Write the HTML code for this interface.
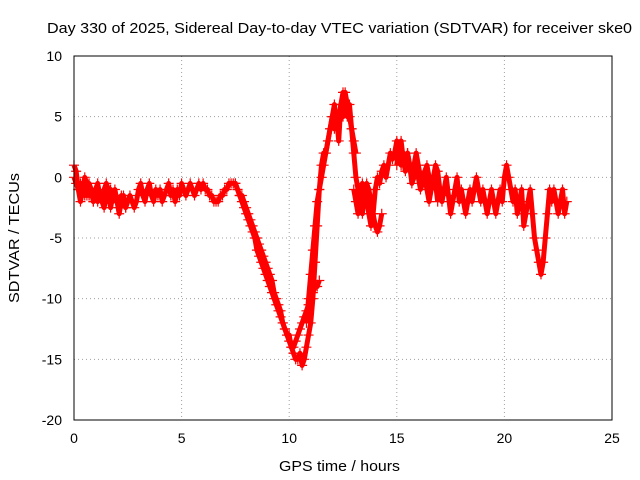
<!DOCTYPE html>
<html><head><meta charset="utf-8"><style>
body{margin:0;background:#fff;}
svg{display:block;font-family:"Liberation Sans",sans-serif;}
</style></head><body>
<svg id="chart" width="640" height="480">
<rect width="640" height="480" fill="#fff"/>
<text x="47" y="33" font-size="15" textLength="585" lengthAdjust="spacingAndGlyphs">Day 330 of 2025, Sidereal Day-to-day VTEC variation (SDTVAR) for receiver ske0</text>
<g id="grid"></g>
<g id="ticks"></g>
<g id="marks"></g>
<rect x="74" y="56" width="538" height="364" fill="none" stroke="#000"/>
<text x="279" y="471" font-size="15" textLength="121" lengthAdjust="spacingAndGlyphs">GPS time / hours</text>
<text transform="translate(19,303) rotate(-90)" font-size="15" textLength="130" lengthAdjust="spacingAndGlyphs">SDTVAR / TECUs</text>
</svg>
<script>
const xTicks=[0,5,10,15,20,25];
const yTicks=[10,5,0,-5,-10,-15,-20];
const track1Start=0;
const track1=[0,-0.5,-1,-0.5,-1,-1.5,-1,-1.5,-1,-2,
-1.5,-2,-1.5,-2,-2.5,-1.5,-2,-1,-2,-1.5,
-2,-2.5,-1.5,-2,-2.5,-2,-1.5,-2,-2.5,-2,
-1,-0.5,-1.5,-2,-1,-0.5,-1.5,-2,-1,-1.5,
-1,-2,-1.5,-1,-0.5,-1.5,-1,-2,-1,-1.5,
-0.5,-1,-1.5,-1,-0.5,-1,-1.5,-1,-0.5,-1,
-0.5,-1,-1,-1.5,-1.5,-2,-2,-2,-1.5,-1.5,
-1,-1,-0.5,-0.5,-0.5,-0.5,-1,-1.5,-2,-2.5,
-3,-3.5,-4,-4.5,-5,-6,-6.5,-7,-7.5,-8,
-8.5,-9,-9.5,-10,-10.5,-11,-11.5,-12,-12.5,-13,
-13,-14,-14.5,-15,-15,-14.5,-15.5,-15,-14,-13,
-12,-10,-7,-4,-1,1,2,2,3,4,
5,4,5,3,6,5,7,6,5,4,
2,0,-1,-2,-0.5,-1,-0.5,-1,-2,-3,
-1,0,-0.5,0.5,1,0,1,2,1.5,2,
3,2,1,2,1.5,2,1,0.5,1,2,
1,0,-0.5,0.5,1,0,-1,0,1,0.5,
-1,-2,-1,0,-1.5,-3,-2,-1,0,-2,
-1,-2,-3,-2,-1,-2,-1,0,-1,-2,
-1,-2,-3,-2,-1,-2,-3,-2,-1,-2,
0,1,0,-1,-2,-1,-3,-2,-1,-4,
-3,-2,-1,-3,-5,-6,-7,-8,-7,-5,
-3,-1,-2,-1,-2,-3,-2,-1,-3,-2];
const track2Start=7.5;
const track2=[-0.5,-1,-1.5,-1.5,-2,-2.5,-3,-3.5,-4,-4.5,
-5,-5.5,-6,-6.5,-7,-7.5,-8,-8.5,-9.5,-10,
-10.5,-11,-12,-12.5,-13,-13.5,-14,-14,-13.5,-13,
-12.5,-12,-11.5,-11,-10.5,-10,-9.5,-9,-9,-8.5];
const track3Start=10.8;
const track3=[-12,-10,-8,-6,-4,-2,-1,0,1,2,
3,4,5,6,4,5,6,7,6,5,6,4,3,2];
const track4Start=13;
const track4=[-1,-2,-3,-2,-3,-1,-2,-3,-4,-3,-4,-4.5,-4,-3];
const track5Start=0;
const track5=[1,0.5,-1,-2,-1,0,-0.5,-1.5];
const track6Start=0.5;
const track6=[-1,-1.5,-0.5,-1,-2,-1,-0.5,-1.5,-2,-1,-0.5,-1,-2.5,-1.5,-1,-2,-3,-2,-1.5,-2.5];
const track7Start=15;
const track7=[1,2.5,3,1.5,0.5,2,1,-0.5,0,1,0,-1,-0.5,0,-1,-2,-1,0,-0.5,-2];

const X0=74,X1=612,Y0=420,Y1=56;
function xs(v){return X0+(v-0)/25*(X1-X0);}
function ys(v){return Y0-(v+20)/30*(Y0-Y1);}
const NS='http://www.w3.org/2000/svg';
const grid=document.getElementById('grid'),ticks=document.getElementById('ticks'),marks=document.getElementById('marks');
function mk(tag,attrs,parent){const e=document.createElementNS(NS,tag);for(const k in attrs)e.setAttribute(k,attrs[k]);parent.appendChild(e);return e;}
xTicks.forEach(t=>{
 const x=xs(t);
 if(t>0&&t<25){const g=mk('line',{x1:x,x2:x,y1:Y1,y2:Y0,stroke:'#a0a0a0','stroke-dasharray':'1,3'},grid);
 
 }
 const l=mk('text',{x:x,y:443,'font-size':14,'text-anchor':'middle'},ticks);l.textContent=t;
 
 
});
yTicks.forEach(t=>{
 const y=ys(t);
 if(t>-20&&t<10){const g=mk('line',{x1:X0,x2:X1,y1:y,y2:y,stroke:'#a0a0a0','stroke-dasharray':'1,3'},grid);
 
 }
 const l=mk('text',{x:62,y:y+5,'font-size':14,'text-anchor':'end'},ticks);l.textContent=t;
 
 
});
function drawTrack(start,vals,name){
 const g=mk('g',{},marks);
 
 
 const pts=vals.map((v,i)=>[xs(start+i*0.1),ys(v)]);
 const pl=mk('polyline',{points:pts.map(p=>p.join(',')).join(' '),fill:'none',stroke:'#f00','stroke-width':5,'stroke-linejoin':'round'},g);
 
 
 pts.forEach(p=>{
  const m=mk('path',{d:`M${p[0]-5},${p[1]}h10M${p[0]},${p[1]-5}v10`,stroke:'#f00','stroke-width':1.2},g);
  
  
 });
}
drawTrack(track1Start,track1,'track-1');
drawTrack(track2Start,track2,'track-2');
drawTrack(track3Start,track3,'track-3');
drawTrack(track4Start,track4,'track-4');
drawTrack(track5Start,track5,'track-5');
drawTrack(track6Start,track6,'track-6');
drawTrack(track7Start,track7,'track-7');
</script>
</body></html>
